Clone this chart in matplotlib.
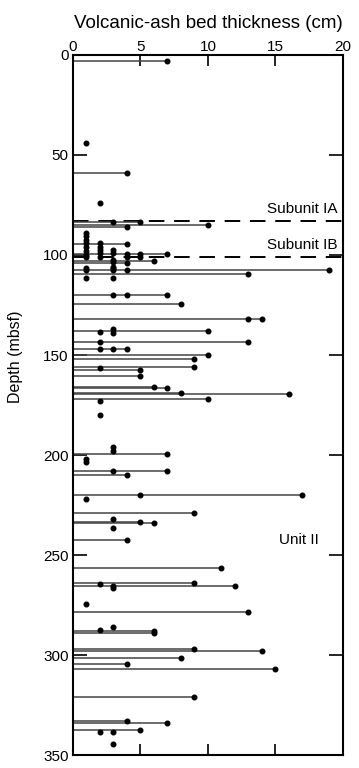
import numpy as np
import pandas as pd
import matplotlib
matplotlib.use("Agg")
import matplotlib.pyplot as plt

plt.rcParams["font.family"] = ["Liberation Sans", "DejaVu Sans"]

# ash beds drawn as a line from 0 to the thickness with a dot at the end
bed_depth = [3, 59, 83.3, 85, 85.8, 94.5, 99.5, 102.8, 104.2, 107.5, 109.7,
             120, 124.7, 132.2, 137.8, 143.3, 147.2, 150.2, 152.2, 156.2,
             157.5, 160.5, 165.8, 166.7, 168.8, 169.7, 172, 199.7, 207.8,
             210, 219.8, 228.8, 233.3, 234.2, 242.5, 256.7, 263.8, 265.5,
             278.5, 288, 289.2, 297.2, 298, 301.7, 304.5, 306.8, 321.2,
             333, 333.8, 337.7]
bed_thick = [7, 4, 5, 10, 4, 4, 7, 6, 4, 19, 13,
             7, 8, 14, 10, 13, 4, 10, 9, 9,
             5, 5, 6, 7, 8, 16, 10, 7, 7,
             4, 17, 9, 5, 6, 4, 11, 9, 12,
             13, 6, 6, 9, 14, 8, 4, 15, 9,
             4, 7, 5]

# extra beds shown only as dots
dot_depth = [44, 74, 83.3, 88.8, 90.5, 92.5, 94.2, 96.2, 97.8, 100, 100.8,
             94.2, 95.8, 97.5, 99.2, 100.8, 97.5, 99.2, 106.3, 107.5,
             99.5, 99.5, 100.8, 100.8, 102.5, 103.3, 105.8, 106.3, 107.5,
             107.5, 111.7, 111.7, 120, 120, 132.2, 138.7, 137, 138.8,
             143.3, 147.2, 147.2, 156.7, 173, 180.2, 195.8, 197.8, 201.8,
             203.3, 207.8, 219.8, 222.2, 232, 236.3, 264.7, 265.5, 266.3,
             274.5, 285.8, 287.5, 338.3, 338.3, 344.5]
dot_thick = [1, 2, 3, 1, 1, 1, 1, 1, 1, 1, 1,
             2, 2, 2, 2, 2, 3, 3, 1, 1,
             4, 5, 4, 5, 3, 3, 3, 3, 3,
             4, 1, 3, 3, 4, 13, 2, 3, 3,
             2, 2, 3, 2, 2, 2, 3, 3, 1,
             1, 3, 5, 1, 3, 3, 2, 3, 3,
             1, 3, 2, 2, 3, 3]

unit_bounds = [83, 101]
x_ticks = [0, 5, 10, 15, 20]
y_ticks = [0, 50, 100, 150, 200, 250, 300, 350]

beds = pd.DataFrame({"depth": bed_depth, "thick": bed_thick})
dots = pd.DataFrame({"depth": dot_depth, "thick": dot_thick})

fig = plt.figure(figsize=(3.59, 7.68), dpi=100)
ax = fig.add_axes([0.2033, 0.0169, 0.7521, 0.9115])

ax.hlines(beds["depth"], 0, beds["thick"], color="#444444", linewidth=1.1, zorder=2)
ax.plot(beds["thick"], beds["depth"], "o", color="black", markersize=3.3, zorder=3)
ax.plot(dots["thick"], dots["depth"], "o", color="black", markersize=3.3, zorder=3)

for d in unit_bounds:
    ax.axhline(d, color="black", linewidth=1.4, dashes=(8, 5), zorder=1)

ax.text(19.6, 80.5, "Subunit IA", ha="right", va="bottom", fontsize=11)
ax.text(19.6, 98.5, "Subunit IB", ha="right", va="bottom", fontsize=11)
ax.text(16.7, 242.5, "Unit II", ha="center", va="center", fontsize=11)

ax.set_xlim(0, 20)
ax.set_ylim(350, 0)
ax.set_xticks(x_ticks)
ax.set_yticks(y_ticks)
ax.xaxis.tick_top()
ax.xaxis.set_label_position("top")
ax.tick_params(axis="x", which="both", direction="in", length=8, width=1.2,
               top=True, bottom=True, labelsize=11, pad=1)
ax.tick_params(axis="y", which="both", direction="in", length=10, width=1.2,
               left=True, right=True, labelsize=11, pad=3)
ax.set_xlabel("Volcanic-ash bed thickness (cm)", fontsize=13.5, labelpad=8)
ax.set_ylabel("Depth (mbsf)", fontsize=11.5)
ax.yaxis.set_label_coords(-0.185, 0.569)
for s in ax.spines.values():
    s.set_linewidth(1.5)

fig.savefig("out.png", dpi=100)
